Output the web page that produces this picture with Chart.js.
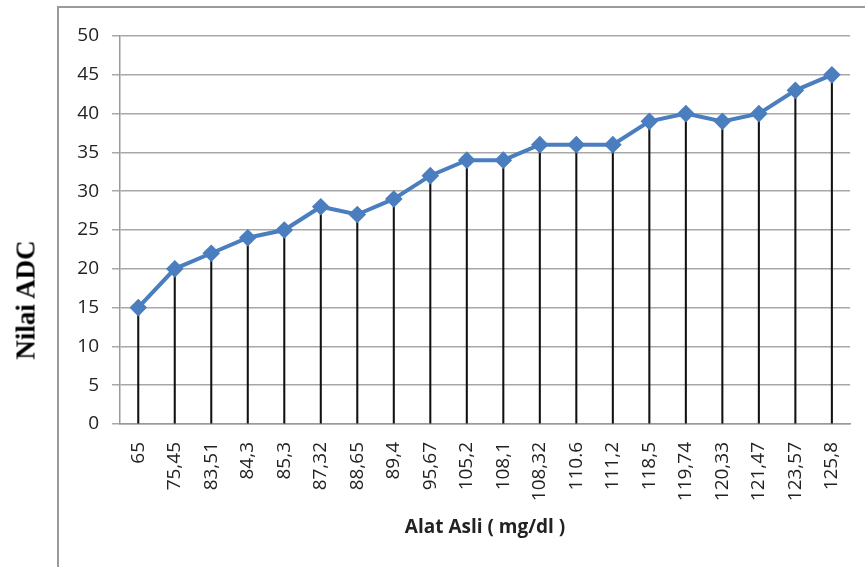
<!DOCTYPE html>
<html>
<head>
<meta charset="utf-8">
<script src="https://cdn.jsdelivr.net/npm/chart.js@4/dist/chart.umd.min.js"></script>
<style>
  html, body { margin: 0; padding: 0; background: #fff; }
  #wrap { position: relative; width: 865px; height: 567px; overflow: hidden; }
  #frame { position: absolute; left: 57px; top: 6px; width: 900px; height: 700px; border-left: 2px solid #9a9a9a; border-top: 2px solid #9a9a9a; }
  #c { position: absolute; left: 0; top: 0; }
  #ytitle { position: absolute; left: 26px; top: 300px; transform: translate(-50%, -50%) rotate(-90deg);
    font-family: "Liberation Serif", serif; font-weight: bold; font-size: 27px; color: #000; white-space: nowrap; }
</style>
</head>
<body>
<div id="wrap">
  <div id="frame"></div>
  <canvas id="c" width="865" height="567"></canvas>
  <div id="ytitle">Nilai ADC</div>
</div>
<script>
const categories = ["65","75,45","83,51","84,3","85,3","87,32","88,65","89,4","95,67","105,2","108,1","108,32","110.6","111,2","118,5","119,74","120,33","121,47","123,57","125,8"];
const adcValues = [15,20,22,24,25,28,27,29,32,34,34,36,36,36,39,40,39,40,43,45];
const yTickMin = 0, yTickMax = 50, yTickStep = 5;
const xTitle = "Alat Asli ( mg/dl )";

const blue = "#4a7ebf";
new Chart(document.getElementById("c"), {
  data: {
    labels: categories,
    datasets: [
      { type: "line", data: adcValues, borderColor: blue, backgroundColor: blue, borderWidth: 4,
        pointStyle: "rectRot", pointRadius: 6, pointHoverRadius: 6, pointBackgroundColor: blue, pointBorderColor: blue,
        tension: 0, order: 0 },
      { type: "bar", data: adcValues, backgroundColor: "#111", barThickness: 1.4, order: 1 }
    ]
  },
  options: {
    responsive: false,
    animation: false,
    layout: { padding: { top: 36, right: 13, left: 0, bottom: 0 } },
    plugins: { legend: { display: false }, tooltip: { enabled: false } },
    scales: {
      x: {
        type: "category",
        offset: true,
        grid: { display: false },
        border: { display: true, color: "#9a9a9a", width: 1.5 },
        ticks: { color: "#222", font: { family: "Open Sans", size: 19 }, minRotation: 90, maxRotation: 90, padding: 10, autoSkip: false },
        title: { display: true, text: xTitle, color: "#222", font: { family: "Open Sans", size: 19, weight: "bold" }, padding: { top: 0, bottom: 28 } },
        afterFit: (s) => { s.height = 143; }
      },
      y: {
        min: yTickMin, max: yTickMax,
        grid: { color: "#a8a8a8", lineWidth: 1.5, tickLength: 8, drawTicks: true },
        border: { display: true, color: "#9a9a9a", width: 1.5 },
        ticks: { stepSize: yTickStep, color: "#222", font: { family: "Open Sans", size: 19 }, padding: 13 },
        afterFit: (s) => { s.width = 120; }
      }
    }
  }
});
</script>
</body>
</html>
